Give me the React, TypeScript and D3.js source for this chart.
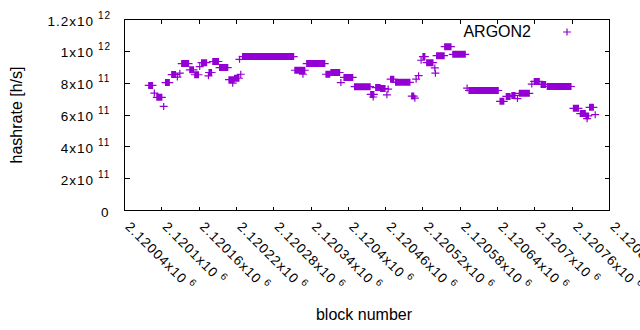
import React from "react";
import * as d3 from "d3";

// Runs of consecutive blocks sharing the same hashrate estimate (start block, end block, h/s)
const runStart = [
  2120079, 2120088, 2120092, 2120103, 2120106, 2120116, 2120125, 2120129, 2120132, 2120145,
  2120153, 2120161, 2120164, 2120175, 2120176, 2120182, 2120193, 2120208, 2120214, 2120217,
  2120225, 2120227, 2120230, 2120314, 2120327, 2120333, 2120364, 2120372, 2120388, 2120393,
  2120410, 2120436, 2120440, 2120444, 2120452, 2120462, 2120464, 2120468, 2120476, 2120502,
  2120507, 2120509, 2120513, 2120517, 2120520, 2120526, 2120539, 2120540, 2120542, 2120555,
  2120568, 2120591, 2120594, 2120644, 2120654, 2120663, 2120672, 2120675, 2120695, 2120699,
  2120710, 2120720, 2120762, 2120773, 2120782, 2120784, 2120788, 2120797,
];
const runEnd = [
  2120085, 2120088, 2120100, 2120103, 2120112, 2120122, 2120125, 2120129, 2120143, 2120151,
  2120159, 2120161, 2120172, 2120175, 2120180, 2120191, 2120206, 2120216, 2120214, 2120224,
  2120225, 2120227, 2120312, 2120330, 2120327, 2120362, 2120370, 2120386, 2120388, 2120407,
  2120435, 2120441, 2120440, 2120451, 2120459, 2120462, 2120464, 2120473, 2120499, 2120505,
  2120507, 2120509, 2120513, 2120517, 2120523, 2120536, 2120539, 2120540, 2120554, 2120565,
  2120588, 2120591, 2120641, 2120650, 2120660, 2120668, 2120672, 2120691, 2120695, 2120707,
  2120717, 2120758, 2120770, 2120781, 2120786, 2120784, 2120794, 2120797,
];
const runRate = [
  7.86e11, 7.38e11, 7.11e11, 6.54e11, 8.04e11, 8.54e11, 8.38e11, 8.63e11, 9.23e11, 8.84e11,
  8.53e11, 9.04e11, 9.29e11, 8.46e11, 8.67e11, 9.36e11, 8.98e11, 8.22e11, 8.0e11, 8.31e11,
  9.5e11, 8.56e11, 9.67e11, 8.81e11, 8.56e11, 9.23e11, 8.56e11, 8.67e11, 8.04e11, 8.36e11,
  7.78e11, 7.29e11, 7.13e11, 7.72e11, 7.66e11, 7.27e11, 7.63e11, 8.25e11, 8.05e11, 7.19e11,
  7.06e11, 8.25e11, 8.47e11, 9.44e11, 9.67e11, 9.29e11, 8.96e11, 8.63e11, 9.73e11, 1.029e12,
  9.81e11, 7.69e11, 7.54e11, 6.86e11, 7.17e11, 7.23e11, 7.03e11, 7.36e11, 7.94e11, 8.11e11,
  7.92e11, 7.79e11, 6.42e11, 6.09e11, 5.94e11, 5.77e11, 6.48e11, 6.02e11,
];

const xTicks = [
  2120040, 2120100, 2120160, 2120220, 2120280, 2120340, 2120400,
  2120460, 2120520, 2120580, 2120640, 2120700, 2120760, 2120820,
];
const xTickLabels = [
  "2.12004", "2.1201", "2.12016", "2.12022", "2.12028", "2.12034", "2.1204",
  "2.12046", "2.12052", "2.12058", "2.12064", "2.1207", "2.12076", "2.12082",
];
const xTickExp = "6";
const yTicks = [0, 2e11, 4e11, 6e11, 8e11, 1e12, 1.2e12];
const yTickMantissa = ["0", "2", "4", "6", "8", "1", "1.2"];
const yTickExp = ["", "11", "11", "11", "11", "12", "12"];
const seriesName = "ARGON2";
const xTitle = "block number";
const yTitle = "hashrate [h/s]";

const COLOR = "#9400d3";
const FONT = "'Liberation Sans', Arial, sans-serif";

export default function App() {
  const W = 640;
  const H = 330;
  const x = d3.scaleLinear().domain([2120040, 2120820]).range([124.5, 609.5]);
  const y = d3.scaleLinear().domain([0, 1.2e12]).range([210.5, 19.5]);
  const [x0, x1] = x.range();
  const [yb, yt] = y.range();

  const cross = (cx: number, cy: number) =>
    `M${cx - 4},${cy}h8M${cx},${cy - 3.5}v7`;

  let d = "";
  runStart.forEach((s, i) => {
    d3.range(s, runEnd[i] + 1).forEach((b) => {
      d += cross(x(b), y(runRate[i]));
    });
  });

  const tickLenY = 5;
  const tickLenX = 4;
  const tickFont = 13.5;
  const supFont = 10;

  return (
    <svg
      width={W}
      height={H}
      style={{ position: "absolute", left: 0, top: 0, background: "#fff" }}
      fontFamily={FONT}
    >
      <rect x={0} y={0} width={W} height={H} fill="#fff" />
      {/* ticks */}
      <g stroke="#000" strokeWidth={1} shapeRendering="crispEdges">
        {yTicks.map((t, i) => (
          <g key={"yt" + i}>
            <line x1={x0} x2={x0 + tickLenY} y1={y(t)} y2={y(t)} />
            <line x1={x1} x2={x1 - tickLenY} y1={y(t)} y2={y(t)} />
          </g>
        ))}
        {xTicks.map((t, i) => (
          <g key={"xt" + i}>
            <line x1={x(t)} x2={x(t)} y1={yb} y2={yb - tickLenX} />
            <line x1={x(t)} x2={x(t)} y1={yt} y2={yt + tickLenX} />
          </g>
        ))}
        <rect x={x0} y={yt} width={x1 - x0} height={yb - yt} fill="none" />
      </g>
      {/* y tick labels */}
      {yTicks.map((t, i) =>
        yTickExp[i] ? (
          <g key={"yl" + i} fill="#000">
            <text x={94} y={y(t) + 6} textAnchor="end" fontSize={tickFont} letterSpacing={1}>
              {yTickMantissa[i] + "x10"}
            </text>
            <text x={98} y={y(t) - 1} fontSize={supFont} letterSpacing={1}>
              {yTickExp[i]}
            </text>
          </g>
        ) : (
          <text
            key={"yl" + i}
            x={109.5}
            y={y(t) + 6}
            textAnchor="end"
            fontSize={tickFont}
            letterSpacing={1}
            fill="#000"
          >
            {yTickMantissa[i]}
          </text>
        )
      )}
      {/* x tick labels */}
      {xTicks.map((t, i) => (
        <text
          key={"xl" + i}
          transform={`translate(${x(t)},${yb + 17}) rotate(45)`}
          fontSize={tickFont}
          letterSpacing={1}
          fill="#000"
        >
          {xTickLabels[i] + "x10"}
          <tspan dx={4} dy={-6} fontSize={supFont}>
            {xTickExp}
          </tspan>
        </text>
      ))}
      {/* axis titles */}
      <text x={364} y={320} textAnchor="middle" fontSize={16} fill="#000">
        {xTitle}
      </text>
      <text
        transform={`translate(22,${(yb + yt) / 2}) rotate(-90)`}
        textAnchor="middle"
        fontSize={16}
        fill="#000"
      >
        {yTitle}
      </text>
      {/* data */}
      <path d={d} stroke={COLOR} strokeWidth={1.2} fill="none" />
      {/* legend */}
      <text x={531} y={37} textAnchor="end" fontSize={16} fill="#000">
        {seriesName}
      </text>
      <path d={cross(567, 32)} stroke={COLOR} strokeWidth={1.2} fill="none" />
    </svg>
  );
}
